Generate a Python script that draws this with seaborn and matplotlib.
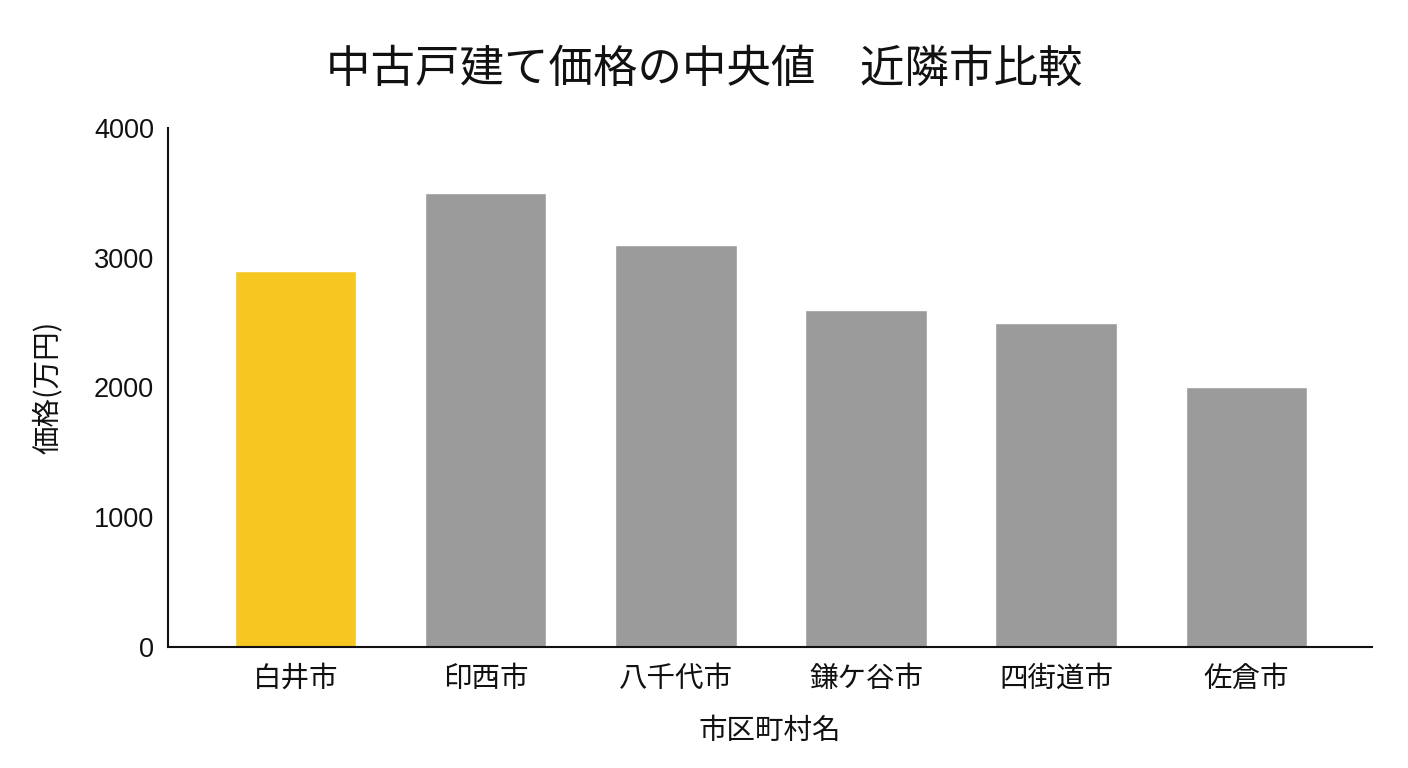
import matplotlib
matplotlib.use("Agg")
import matplotlib.pyplot as plt
import seaborn as sns
import pandas as pd

cities = ["白井市", "印西市", "八千代市", "鎌ケ谷市", "四街道市", "佐倉市"]
prices = [2900, 3500, 3100, 2600, 2500, 2000]
highlight = "白井市"
yticks = [0, 1000, 2000, 3000, 4000]

sns.set_theme(style="white")
plt.rcParams['font.family'] = ['Noto Sans CJK JP', 'DejaVu Sans']

df = pd.DataFrame({"city": cities, "price": prices})
palette = {c: ("#F5C720" if c == highlight else "#9B9B9B") for c in cities}

fig = plt.figure(figsize=(14.08, 7.68), dpi=100)
ax = fig.add_axes([0.1193, 0.1576, 0.9744 - 0.1193, 0.8333 - 0.1576])
sns.barplot(data=df, x="city", y="price", hue="city", palette=palette,
            width=0.64, legend=False, ax=ax, saturation=1)
ax.set_xlim(-0.67, 5.66)
ax.set_ylim(0, 4000)
ax.set_yticks(yticks)
ax.set_yticklabels([str(v) for v in yticks], family=['Liberation Sans', 'DejaVu Sans'])
ax.tick_params(axis='both', length=0, colors="#111111")
ax.tick_params(axis='x', pad=12, labelsize=20.5)
ax.tick_params(axis='y', pad=10, labelsize=19.5)
for s in ["top", "right"]:
    ax.spines[s].set_visible(False)
for s in ["left", "bottom"]:
    ax.spines[s].set_color("#111111")
    ax.spines[s].set_linewidth(1.5)
ax.set_xlabel("市区町村名", fontsize=20.5, labelpad=16, color="#111111")
ax.set_ylabel("価格(万円)", fontsize=20.5, labelpad=22, color="#111111")
fig.suptitle("中古戸建て価格の中央値\u3000近隣市比較", fontsize=32, y=0.94, color="#111111")
fig.savefig("out.png", dpi=100)
